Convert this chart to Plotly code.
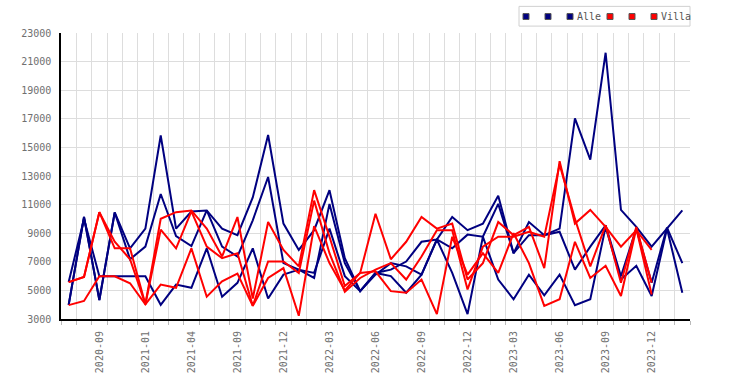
import plotly.graph_objects as go

# ---------------- data ----------------
tick_labels = ["2020-09", "2021-01", "2021-04", "2021-09", "2021-12", "2022-03",
               "2022-06", "2022-09", "2022-12", "2023-03", "2023-06", "2023-09", "2023-12"]

alle_a = [3990, 10130, 4330, 10450, 7940, 9320, 15830, 9320, 10520, 10590,
          9320, 8860, 11500, 15870, 9670, 7830, 9210, 12010, 7250, 4950,
          6220, 6450, 7020, 8400, 8560, 10130, 9210, 9670, 11620, 7600,
          9780, 8860, 9320, 17030, 14150, 21620, 10630, 9440, 8060, 9320, 10590]
alle_b = [3990, 10130, 4330, 10450, 7180, 8060, 11740, 8800, 8100, 10590,
          8060, 7370, 9900, 12930, 6910, 6450, 5870, 11050, 6900, 4950,
          6100, 6910, 6680, 6100, 8560, 7940, 8900, 8750, 11050, 7600,
          8860, 8860, 9100, 6450, 8060, 9550, 5990, 9320, 5530, 9390, 6910]
alle_c = [5590, 10000, 5990, 5990, 5990, 5990, 3990, 5410, 5180, 7940,
          4560, 5530, 7940, 4430, 6100, 6450, 6220, 9320, 6000, 4950,
          6220, 6000, 4840, 6100, 8560, 6220, 3340, 8750, 5760, 4380,
          6100, 4660, 6100, 3970, 4380, 9440, 5760, 6720, 4610, 9320, 4840]

villa_a = [5580, 5940, 10470, 7940, 7940, 4030, 10010, 10470, 10590, 9320,
           7370, 10130, 4430, 9780, 7830, 6680, 12010, 8750, 5300, 6220,
           10360, 7180, 8400, 10130, 9320, 9670, 5760, 6910, 9780, 8860,
           9440, 6560, 14040, 9670, 10630, 9440, 8060, 9210, 7830, None, None]
villa_b = [5580, 5940, 10470, 8400, 7180, 4030, 9250, 7940, 10520, 8060,
           7250, 7600, 3920, 7020, 7020, 6220, 11280, 7600, 4910, 5870,
           6450, 6910, 5760, 7370, 9200, 9210, 5070, 8060, 8750, 8750,
           9100, 8750, 13800, 10000, 6680, 9550, 5530, 9440, 5530, None, None]
villa_c = [3970, 4260, 5990, 5990, 5500, 4030, 5410, 5180, 7940, 4560,
           5640, 6170, 3920, 5870, 6560, 3230, 9500, 6910, 5000, 6220,
           6330, 4950, 4840, 5760, 3340, 8750, 6100, 7600, 6220, 9000,
           6910, 3920, 4380, 8400, 5870, 6720, 4610, 9320, 4720, None, None]

alle_series = [alle_a, alle_b, alle_c]
villa_series = [villa_a, villa_b, villa_c]
alle_names = ["", "", "Alle"]
villa_names = ["", "", "Villa"]
ALLE_COLOR = "#000080"
VILLA_COLOR = "#ff0000"

# ---------------- figure ----------------
W, H = 750, 385
ML, MR, MT, MB = 61, 60, 33, 62
FONT = "DejaVu Sans Mono"
TXT = "#707070"

n = len(alle_a)
xs = list(range(n))

fig = go.Figure()
groups = [(alle_series, alle_names, ALLE_COLOR), (villa_series, villa_names, VILLA_COLOR)]
for series, names, color in groups:
    for vals, name in zip(series, names):
        fig.add_trace(go.Scatter(x=xs, y=vals, mode="lines", name=name,
                                 line=dict(color=color, width=2),
                                 showlegend=False, connectgaps=False))

tick_pos = [2 + 3 * i for i in range(len(tick_labels))]

fig.update_layout(
    width=W, height=H, autosize=False,
    margin=dict(l=ML, r=MR, t=MT, b=MB, pad=0),
    paper_bgcolor="white", plot_bgcolor="white",
    font=dict(family=FONT, size=10, color=TXT),
    xaxis=dict(range=[-0.5, n - 0.5], tickmode="array", tickvals=tick_pos,
               ticktext=tick_labels, tickangle=-90, showgrid=False,
               ticks="outside", ticklen=6, tickcolor="rgba(0,0,0,0)",
               showline=True, linecolor="black", linewidth=2, zeroline=False,
               tickfont=dict(family=FONT, size=10, color=TXT),
               minor=dict(tickmode="array", tickvals=[i + 0.5 for i in range(-1, n)],
                          ticks="outside", ticklen=4, tickcolor="#bbbbbb",
                          showgrid=True, gridcolor="#dddddd", gridwidth=1)),
    yaxis=dict(range=[3000, 23000], tick0=3000, dtick=2000, tickformat="d",
               showgrid=True, gridcolor="#dddddd", gridwidth=1, zeroline=False,
               showline=True, linecolor="black", linewidth=1.5,
               ticks="outside", ticklen=6, tickcolor="rgba(0,0,0,0)",
               tickfont=dict(family=FONT, size=10, color=TXT)),
)

# ---------------- custom legend (from series names/colors) ----------------
pw = W - ML - MR
ph = H - MT - MB


def px_x(p):
    return (p - ML) / pw


def px_y(p):
    return (H - MB - p) / ph


box_l, box_r, box_t, box_b = 519, 690, 6, 26
fig.add_shape(type="rect", xref="paper", yref="paper",
              x0=px_x(box_l), x1=px_x(box_r), y0=px_y(box_b), y1=px_y(box_t),
              line=dict(color="#d0d0d0", width=1), fillcolor="white", layer="above")
cx = 523
cy = 16.3
for series, names, color in groups:
    for name in names:
        fig.add_shape(type="rect", xref="paper", yref="paper",
                      x0=px_x(cx), x1=px_x(cx + 6), y0=px_y(cy + 3), y1=px_y(cy - 3),
                      line=dict(color="#555555", width=1), fillcolor=color, layer="above")
        if name:
            fig.add_annotation(xref="paper", yref="paper", x=px_x(cx + 8), y=px_y(cy),
                               text=name, showarrow=False, xanchor="left", yanchor="middle",
                               font=dict(family=FONT, size=10, color="#555555"))
            cx += 22 + 6 * len(name) - 6
        else:
            cx += 22

fig.write_html("out.html", config={"displayModeBar": False},
               post_script="document.body.style.margin='0';document.body.style.overflow='hidden';")
